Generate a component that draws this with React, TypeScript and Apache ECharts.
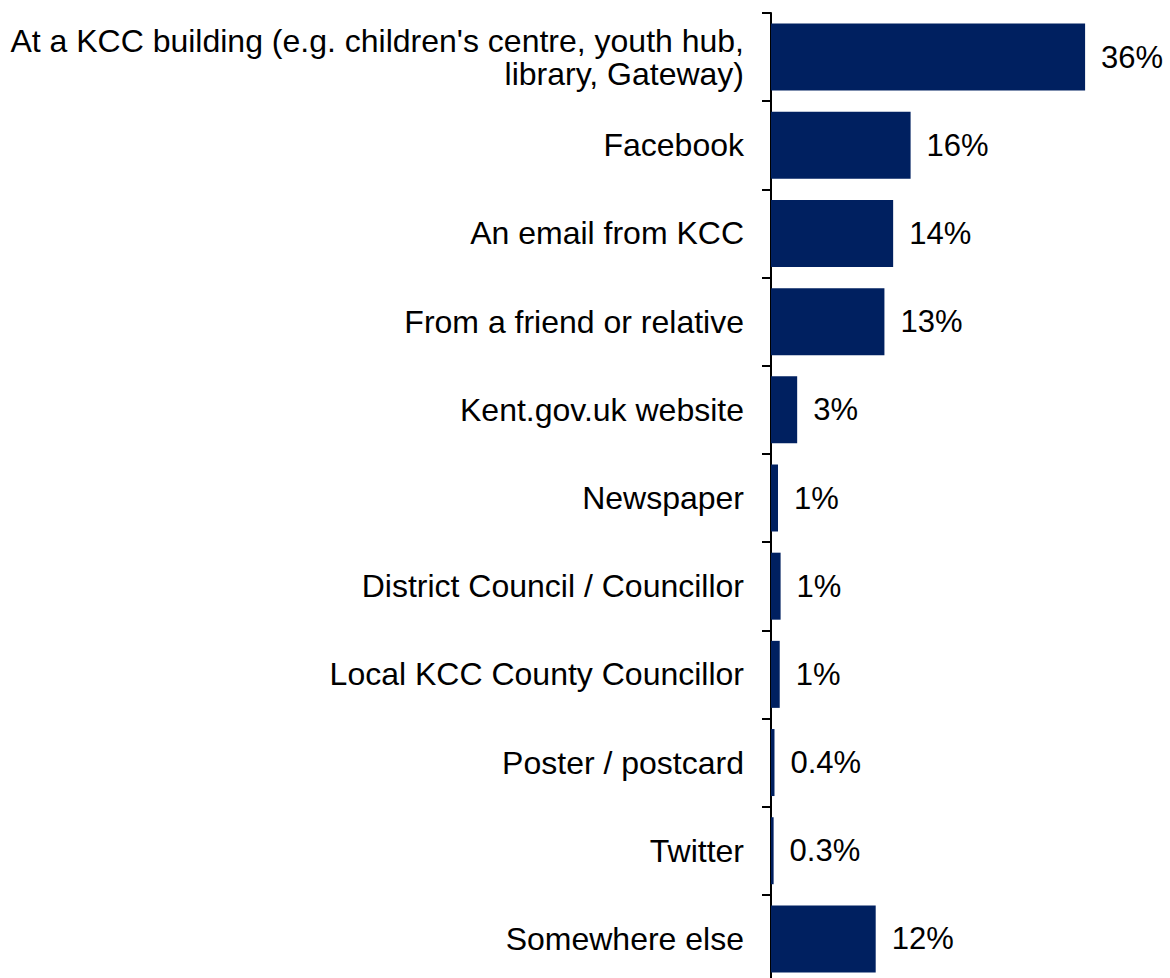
import React, { useEffect, useRef } from "react";
import * as echarts from "echarts";

const categories = [
  "At a KCC building (e.g. children's centre, youth hub,\nlibrary, Gateway)",
  "Facebook",
  "An email from KCC",
  "From a friend or relative",
  "Kent.gov.uk website",
  "Newspaper",
  "District Council / Councillor",
  "Local KCC County Councillor",
  "Poster / postcard",
  "Twitter",
  "Somewhere else",
];

const values = [36, 16, 14, 13, 3, 0.8, 1.1, 1.0, 0.4, 0.3, 12];

export default function App() {
  const ref = useRef<HTMLDivElement>(null);
  useEffect(() => {
    if (!ref.current) return;
    const chart = echarts.init(ref.current, undefined, { renderer: "svg" });
    const font = "'Liberation Sans', Arial, sans-serif";
    chart.setOption({
      animation: false,
      grid: { left: 771, top: 13, right: 50, height: 970, outerBoundsMode: "none" },
      xAxis: {
        type: "value",
        min: 0,
        max: 40,
        show: false,
        splitLine: { show: false },
      },
      yAxis: {
        type: "category",
        inverse: true,
        data: categories,
        axisLine: { show: true, lineStyle: { color: "#000", width: 2 } },
        axisTick: { show: true, length: 9, lineStyle: { color: "#000", width: 2 } },
        axisLabel: {
          margin: 27,
          color: "#000",
          fontSize: 32,
          fontFamily: font,
          lineHeight: 33,
          align: "right",
        },
      },
      series: [
        {
          type: "bar",
          data: values,
          barWidth: 67,
          itemStyle: { color: "#002060" },
          label: {
            show: true,
            position: "right",
            distance: 16,
            color: "#000",
            fontSize: 31,
            fontFamily: font,
            formatter: (p: any) =>
              (p.value < 0.5 ? p.value.toFixed(1) : Math.round(p.value)) + "%",
          },
        },
      ],
    });
    return () => chart.dispose();
  }, []);
  return (
    <div
      ref={ref}
      style={{ position: "absolute", left: 0, top: 0, width: 1170, height: 978 }}
    />
  );
}
